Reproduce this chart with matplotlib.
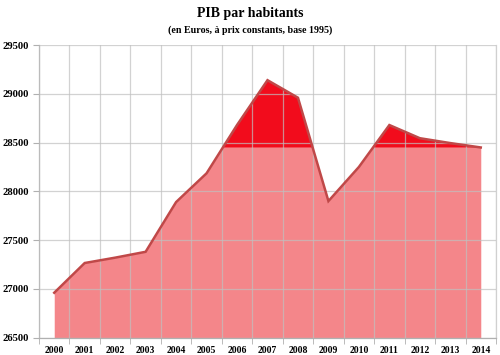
import numpy as np
import matplotlib.pyplot as plt

years = ["2000", "2001", "2002", "2003", "2004", "2005", "2006", "2007",
         "2008", "2009", "2010", "2011", "2012", "2013", "2014"]
pib = [26960, 27265, 27320, 27380, 27890, 28185, 28680, 29140,
       28960, 27900, 28250, 28680, 28545, 28495, 28450]
yticks = [26500, 27000, 27500, 28000, 28500, 29000, 29500]

x = np.arange(len(years))
y = np.array(pib, dtype=float)
thr = y[-1]

plt.rcParams['font.family'] = ['Liberation Serif', 'DejaVu Serif']
plt.rcParams['font.weight'] = 'bold'

fig = plt.figure(figsize=(5, 3.55), dpi=100)
ax = fig.add_axes([0.078, 0.049, 0.914, 0.824])

ax.fill_between(x, y, yticks[0], color='#f4868a', lw=0, zorder=1)
ax.fill_between(x, y, thr, where=y >= thr, interpolate=True,
                color='#f20c1c', lw=0, zorder=1)
ax.plot(x, y, color='#c04848', lw=1.8, zorder=3, solid_joinstyle='miter')

ax.set_xlim(-0.5, len(years) - 0.5)
ax.set_ylim(yticks[0], yticks[-1])
ax.set_yticks(yticks)
ax.set_yticklabels([str(v) for v in yticks], fontsize=7.6, fontweight='bold')
ax.set_xticks(x)
ax.set_xticklabels(years, fontsize=6.9, fontweight='bold')
ax.set_xticks(np.arange(-0.5, len(years)), minor=True)
ax.tick_params(axis='x', which='major', length=0, pad=6)
ax.tick_params(axis='x', which='minor', length=4, color='#b0b0b0')
ax.tick_params(axis='y', length=4, color='#b0b0b0', pad=3)

ax.grid(True, axis='y', color='#c0c0c0', lw=0.9, alpha=0.7, zorder=2)
ax.grid(True, axis='x', which='minor', color='#c0c0c0', lw=0.9, alpha=0.7, zorder=2)
ax.set_axisbelow(False)
ax.spines['top'].set_visible(False)
ax.spines['right'].set_color('#d0d0d0')
ax.spines['right'].set_linewidth(0.9)
for s in ['left', 'bottom']:
    ax.spines[s].set_color('#b0b0b0')
    ax.spines[s].set_linewidth(0.9)

fig.text(0.5, 0.963, "PIB par habitants", ha='center', va='center',
         fontsize=10, fontweight='bold')
fig.text(0.5, 0.915, "(en Euros, à prix constants, base 1995)", ha='center',
         va='center', fontsize=7.2, fontweight='bold')

fig.savefig("out.png", dpi=100)
